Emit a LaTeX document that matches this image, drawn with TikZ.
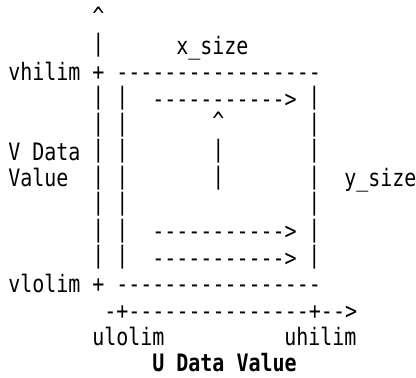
\documentclass[tikz,border=0pt]{standalone}
\usepackage{fontspec}
\usepackage{tikz}
\newfontfamily\asciifont[FakeStretch=0.8333]{DejaVu Sans Mono}
\def\colw{9}
\def\rowh{19.84}

\begin{document}
\begin{tikzpicture}[x=\colw pt, y=-\rowh pt,
		txt/.style={anchor=base west, inner sep=0pt, font=\asciifont\fontsize{18}{20}\selectfont},
		bar/.style={txt, yshift=2pt},
		hat/.style={txt, yshift=3pt}]
		\useasboundingbox (-6pt, 21.05pt) rectangle (306pt, -261.7pt);
		% top of the v axis
		\node[hat] (topcaret) at (7, 0) {\textasciicircum};
		\node[bar] (toppipe) at (7, 1) {|};
		\node[txt] (xsize) at (14, 1) {x\_size};
		\node[txt] (vhilim) at (0, 2) {vhilim};
		\node[txt] (vhiplus) at (7, 2) {+};
		\node[txt] (vhiline) at (9, 2) {-----------------};
		% frame and scan lines
		\foreach \r in {3,...,9} {
			\node[bar] (outer\r) at (7, \r) {|};
			\node[bar] (inner\r) at (9, \r) {|};
			\node[bar] (right\r) at (25, \r) {|};
		}
		\foreach \r in {3,8,9}
			\node[txt] (scan\r) at (12, \r) {----------->};
		\node[hat] (midcaret) at (17, 4) {\textasciicircum};
		\node[bar] (mid5) at (17, 5) {|};
		\node[bar] (mid6) at (17, 6) {|};
		\node[txt] (vlabel) at (0, 5) {V Data};
		\node[txt] (vlabelb) at (0, 6) {Value};
		\node[txt] (ysize) at (28, 6) {y\_size};
		\node[txt] (vlolim) at (0, 10) {vlolim};
		\node[txt] (vloplus) at (7, 10) {+};
		\node[txt] (vloline) at (9, 10) {-----------------};
		% u axis
		\node[txt] (uaxis) at (8, 11) {-+---------------+-->};
		\node[txt] (ulolim) at (7, 12) {ulolim};
		\node[txt] (uhilim) at (23, 12) {uhilim};
		\node[txt, text depth=0pt, font=\asciifont\fontsize{18}{20}\bfseries\selectfont] (ulabel) at (12, 13) {U Data Value};
	\end{tikzpicture}
\end{document}
